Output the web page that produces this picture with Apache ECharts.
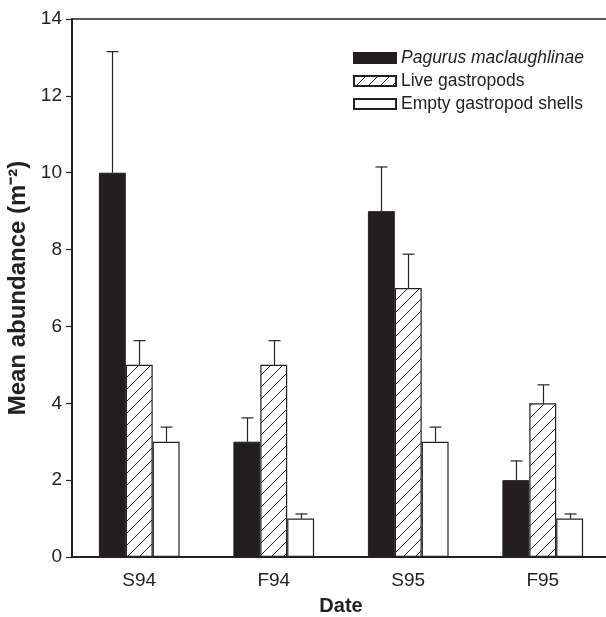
<!DOCTYPE html>
<html>
<head>
<meta charset="utf-8">
<script src="https://cdn.jsdelivr.net/npm/echarts@6/dist/echarts.min.js"></script>
<style>
  html, body { margin: 0; padding: 0; background: #fff; }
  #main { width: 606px; height: 617px; }
</style>
</head>
<body>
<div id="main"></div>
<script>
// data
const dates = ['S94', 'F94', 'S95', 'F95']
const seriesNames = ['Pagurus maclaughlinae', 'Live gastropods', 'Empty gastropod shells']
const pagurus = [10, 3, 9, 2]
const pagurusErr = [3.15, 0.62, 1.15, 0.5]
const live = [5, 5, 7, 4]
const liveErr = [0.63, 0.63, 0.88, 0.48]
const empty = [3, 1, 3, 1]
const emptyErr = [0.38, 0.12, 0.38, 0.12]
const yTicks = [0, 2, 4, 6, 8, 10, 12, 14]

// hatch pattern for live gastropods
function hatch () {
  const s = 12
  const c = document.createElement('canvas')
  c.width = s
  c.height = s
  const ctx = c.getContext('2d')
  ctx.fillStyle = '#fff'
  ctx.fillRect(0, 0, s, s)
  ctx.strokeStyle = '#222'
  ctx.lineWidth = 1
  ctx.beginPath()
  ctx.moveTo(-1, s + 1); ctx.lineTo(s + 1, -1)
  ctx.moveTo(-s - 1, s + 1); ctx.lineTo(s + 1, -s - 1)
  ctx.moveTo(-1, 2 * s + 1); ctx.lineTo(2 * s + 1, -1)
  ctx.stroke()
  return c
}

const font = 'Liberation Sans, Arial, Helvetica, sans-serif'
const chart = echarts.init(document.getElementById('main'))

function errSeries (vals, errs, idx) {
  return {
    type: 'custom',
    name: 'err' + idx,
    z: 1,
    data: vals.map((v, i) => [i, v, v + errs[i]]),
    renderItem: function (params, api) {
      const band = api.size([1, 0])[0]
      const bw = band * 0.6 / 3
      const base = api.coord([api.value(0), api.value(1)])
      const top = api.coord([api.value(0), api.value(2)])
      const x = Math.round(base[0] + (idx - 1) * bw) + 0.5
      const style = { stroke: '#222', lineWidth: 1.2 }
      return {
        type: 'group',
        children: [
          { type: 'line', shape: { x1: x, y1: base[1], x2: x, y2: top[1] }, style: style },
          { type: 'line', shape: { x1: x - 6, y1: top[1], x2: x + 6, y2: top[1] }, style: style }
        ]
      }
    }
  }
}

chart.setOption({
  animation: false,
  grid: {
    left: 72, right: -4, top: 19, bottom: 60,
    outerBoundsMode: 'none',
    containLabel: false,
    show: true, borderColor: '#222', borderWidth: 1.5, backgroundColor: 'transparent'
  },
  legend: {
    orient: 'vertical',
    left: 348, top: 44,
    icon: 'rect',
    itemWidth: 42, itemHeight: 10, itemGap: 5,
    data: seriesNames,
    formatter: function (n) { return n === seriesNames[0] ? '{i|' + n + '}' : n },
    textStyle: {
      fontFamily: font, fontSize: 17.5, color: '#222',
      rich: { i: { fontStyle: 'italic', fontFamily: font, fontSize: 17.5, color: '#222' } }
    }
  },
  xAxis: {
    type: 'category',
    data: dates,
    name: 'Date',
    nameLocation: 'middle',
    nameGap: 39,
    nameTextStyle: { fontFamily: font, fontSize: 20, fontWeight: 'bold', color: '#222' },
    axisLine: { lineStyle: { color: '#222', width: 2 } },
    axisTick: { alignWithLabel: true, length: 6, lineStyle: { color: '#222', width: 1.2 } },
    axisLabel: { fontFamily: font, fontSize: 19, color: '#222', margin: 14 }
  },
  yAxis: {
    type: 'value',
    min: 0, max: 14, interval: 2,
    name: 'Mean abundance (m\u207B\u00B2)',
    nameLocation: 'middle',
    nameGap: 41,
    nameTextStyle: { fontFamily: font, fontSize: 24, fontWeight: 'bold', color: '#222' },
    axisLine: { show: true, lineStyle: { color: '#222', width: 2 } },
    axisTick: { show: true, length: 6, lineStyle: { color: '#222', width: 1.2 } },
    axisLabel: {
      fontFamily: font, fontSize: 19, color: '#222', margin: 10,
      formatter: v => yTicks.indexOf(v) >= 0 ? String(v) : ''
    },
    splitLine: { show: false }
  },
  series: [
    {
      name: seriesNames[0], type: 'bar', data: pagurus,
      barGap: '0%', barCategoryGap: '40%', z: 2,
      itemStyle: { color: '#231f20', borderColor: '#231f20', borderWidth: 1 }
    },
    {
      name: seriesNames[1], type: 'bar', data: live, z: 2,
      itemStyle: { color: { image: hatch(), repeat: 'repeat' }, borderColor: '#222', borderWidth: 1.2 }
    },
    {
      name: seriesNames[2], type: 'bar', data: empty, z: 2,
      itemStyle: { color: '#fff', borderColor: '#222', borderWidth: 1.2 }
    },
    errSeries(pagurus, pagurusErr, 0),
    errSeries(live, liveErr, 1),
    errSeries(empty, emptyErr, 2)
  ]
})
</script>
</body>
</html>
